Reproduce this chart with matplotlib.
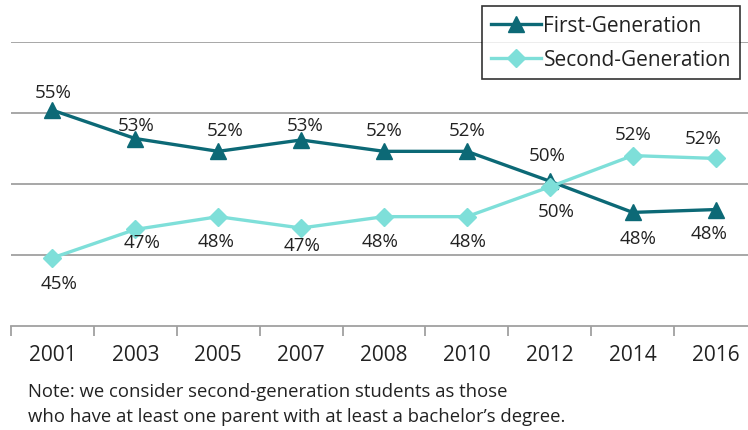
import matplotlib.pyplot as plt

plt.rcParams['font.family'] = ['Open Sans', 'DejaVu Sans']

years = ['2001', '2003', '2005', '2007', '2008', '2010', '2012', '2014', '2016']
first_gen = [55.2, 53.2, 52.3, 53.1, 52.3, 52.3, 50.2, 48.0, 48.2]
second_gen = [44.8, 46.8, 47.7, 46.9, 47.7, 47.7, 49.8, 52.0, 51.8]

# label offsets in pixels (dx, dy; dy > 0 means up)
first_off = [(1, 18), (1, 14), (7, 21), (4, 15), (0, 21), (0, 21), (-3, 26), (5, -26), (-6, -23)]
second_off = [(7, -25), (7, -13), (-2, -24), (1, -17), (-4, -24), (1, -24), (6, -24), (0, 22), (-12, 20)]

dark = '#0C6976'
light = '#7EDFD9'
grid = '#A0A0A0'
txt = '#222222'

fig = plt.figure(figsize=(7.48, 4.31), dpi=100)
ax = fig.add_axes([11 / 748, 1 - 327 / 431, 746 / 748, 284 / 431])

x = list(range(len(years)))
ax.plot(x, first_gen, color=dark, lw=2.4, marker='^', ms=11.5, label='First-Generation', zorder=3)
ax.plot(x, second_gen, color=light, lw=2.4, marker='D', ms=9, label='Second-Generation', zorder=3)

px = 0.72
for i, v in enumerate(first_gen):
    dx, dy = first_off[i]
    ax.annotate(f'{round(v)}%', (i, v), xytext=(dx * px, dy * px), textcoords='offset points',
                ha='center', va='center', fontsize=13.5, color=txt, zorder=4)
for i, v in enumerate(second_gen):
    dx, dy = second_off[i]
    ax.annotate(f'{round(v)}%', (i, v), xytext=(dx * px, dy * px), textcoords='offset points',
                ha='center', va='center', fontsize=13.5, color=txt, zorder=4)

ax.set_xlim(-0.5, len(years) - 0.5)
ax.set_ylim(40, 60)
ax.set_yticks([45, 50, 55, 60])
ax.yaxis.grid(True, color=grid, lw=1.3)
ax.set_axisbelow(True)
ax.tick_params(axis='y', left=False, labelleft=False)

ax.set_xticks(x)
ax.set_xticklabels(years, fontsize=15, color=txt)
ax.tick_params(axis='x', length=0, pad=13)
ax.set_xticks([i - 0.5 for i in range(len(years) + 1)], minor=True)
ax.tick_params(axis='x', which='minor', length=7, color=grid, width=1.3)

for s in ['top', 'left', 'right']:
    ax.spines[s].set_visible(False)
ax.spines['bottom'].set_color(grid)
ax.spines['bottom'].set_linewidth(1.3)

leg = fig.legend(loc='upper left', bbox_to_anchor=(482 / 748, 1 - 7 / 431), fontsize=15,
                 frameon=True, fancybox=False, edgecolor='black', handlelength=2.4,
                 handletextpad=0.1, borderpad=0.45, labelspacing=0.6, borderaxespad=0)
leg.get_frame().set_linewidth(1.2)
for t in leg.get_texts():
    t.set_color(txt)

fig.text(28 / 748, 1 - 392 / 431, 'Note: we consider second-generation students as those',
         fontsize=13.3, color=txt, va='center', ha='left')
fig.text(28 / 748, 1 - 417 / 431, 'who have at least one parent with at least a bachelor\u2019s degree.',
         fontsize=13.3, color=txt, va='center', ha='left')

fig.savefig('out.png', dpi=100)
